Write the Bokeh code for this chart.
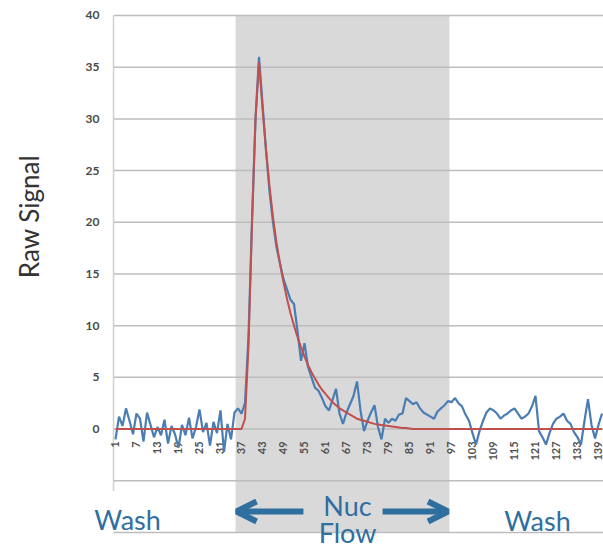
import math
from bokeh.plotting import figure
from bokeh.models import Range1d, Label, Arrow, OpenHead, ColumnDataSource
from bokeh.core.properties import value
from bokeh.embed import file_html
from bokeh.resources import INLINE

# ---------------- data ----------------
frame_index = list(range(1, 141))

raw_signal = [
    -1.0, 1.2, 0.3, 2.0, 0.8, -0.5, 1.5, 1.0, -1.2, 1.6,
    0.4, -0.8, 0.2, -0.6, 0.9, -1.4, 0.3, -0.5, -1.8, 0.4,
    -0.6, 1.1, -0.9, 0.2, 1.9, -0.3, 0.6, -1.6, 0.7, -0.4,
    1.8, -2.2, 0.5, -1.0, 1.6, 2.0, 1.5, 2.5, 9.0, 20.0,
    30.0, 36.0, 31.5, 27.0, 23.0, 20.0, 17.6, 16.0, 14.5, 13.5,
    12.5, 12.1, 9.5, 6.6, 8.3, 6.0, 5.0, 4.0, 3.7, 3.0,
    2.2, 1.8, 2.8, 3.9, 1.5, 0.5, 1.6, 2.4, 3.2, 4.6,
    1.8, -0.2, 0.8, 1.6, 2.3, 0.2, -1.0, 1.0, 0.6, 1.0,
    0.8, 1.4, 1.5, 3.0, 2.7, 2.4, 2.6, 2.0, 1.6, 1.4,
    1.2, 1.0, 1.7, 2.0, 2.3, 2.7, 2.6, 3.0, 2.5, 2.2,
    1.4, 0.8, -0.4, -1.5, -0.2, 0.8, 1.6, 2.0, 1.8, 1.5,
    1.0, 1.3, 1.5, 1.8, 2.0, 1.5, 1.0, 1.2, 1.5, 2.2,
    3.2, -0.2, -0.8, -1.5, -0.4, 0.5, 1.0, 1.2, 1.5, 0.8,
    0.5, -0.3, -0.8, -1.5, 0.8, 2.9, 0.4, -0.9, 0.4, 1.5,
]

fit_signal = [0.0] * 37 + [
    1.0, 8.0, 20.0, 30.0, 35.5, 31.0, 27.0, 23.5, 20.5, 18.0,
    16.0, 14.2, 12.6, 11.2, 10.0, 8.9, 7.9, 7.0, 6.2, 5.5,
    4.9, 4.3, 3.8, 3.4, 3.0, 2.6, 2.3, 2.0, 1.8, 1.6,
    1.4, 1.2, 1.0, 0.9, 0.8, 0.7, 0.6, 0.5, 0.45, 0.4,
    0.35, 0.3, 0.25, 0.2, 0.15, 0.1, 0.1, 0.05,
] + [0.0] * 55

x_tick_index = list(range(1, 141, 6))
x_tick_labels = [str(v) for v in x_tick_index]

y_grid_values = [-10, -5, 0, 5, 10, 15, 20, 25, 30, 35, 40]
y_tick_values = [0, 5, 10, 15, 20, 25, 30, 35, 40]
y_tick_labels = [str(v) for v in y_tick_values]
y_min, y_max = -10, 40

nuc_flow_start = 35.3
nuc_flow_end = 96.4

# ---------------- layout constants ----------------
X0, X1 = -31.857, 140.43      # full canvas in data units
Y0, Y1 = -11.94, 41.45
AXIS_X = 0.43                 # position of the value axis
PX_X = 3.5                    # pixels per category
PX_Y = 10.34                  # pixels per unit of signal

p = figure(width=603, height=552, output_backend="svg", toolbar_location=None,
           x_range=Range1d(X0, X1), y_range=Range1d(Y0, Y1),
           x_axis_location=None, y_axis_location=None,
           min_border=0, min_border_left=0, min_border_right=0,
           min_border_top=0, min_border_bottom=0)
p.outline_line_color = None
p.background_fill_color = "white"
p.grid.visible = False

# shaded nucleotide-flow window
p.quad(left=[nuc_flow_start], right=[nuc_flow_end], bottom=[y_min], top=[y_max],
       fill_color="#d9d9d9", line_color=None)

# horizontal gridlines
p.segment(x0=[AXIS_X] * len(y_grid_values), x1=[X1] * len(y_grid_values),
          y0=y_grid_values, y1=y_grid_values, line_color="#bdbdbd", line_width=1.5)

# value axis line
p.segment(x0=[AXIS_X], x1=[AXIS_X], y0=[y_min + 4], y1=[y_max],
          line_color="#d0d0d0", line_width=1.5)

# value-axis tick labels
p.text(x=[AXIS_X - 14 / PX_X] * len(y_tick_values), y=y_tick_values, text=y_tick_labels,
       text_align="right", text_baseline="middle",
       text_font=value("Lato"), text_font_size="12px", text_font_style="bold",
       text_color="#4a4a4a")

# axis title
p.add_layout(Label(x=AXIS_X - 85 / PX_X, y=40 - 201 / PX_Y, text="Raw Signal", angle=math.pi / 2,
                   text_align="center", text_baseline="middle",
                   text_font="Lato", text_font_size="26px", text_color="#333333"))

# category labels below the zero line
src = ColumnDataSource(dict(x=x_tick_index, y=[-1.2] * len(x_tick_index), t=x_tick_labels))
p.text(x="x", y="y", text="t", source=src, angle=math.pi / 2,
       text_align="right", text_baseline="middle",
       text_font=value("Lato"), text_font_size="11px", text_font_style="bold",
       text_color="#505050")

# series
p.line(frame_index, raw_signal, line_color="#4a7db3", line_width=2.2)
p.line(frame_index, fit_signal, line_color="#c0504d", line_width=2.0)

# annotations
blue = "#2f6fa0"
for txt, x, y in [("Wash", 4.43, -8.74), ("Wash", 121.57, -8.84),
                  ("Nuc", 67.29, -7.39), ("Flow", 67.29, -10.0)]:
    p.add_layout(Label(x=x, y=y, text=txt, text_align="center", text_baseline="middle",
                       text_font="Lato", text_font_size="27px", text_color=blue))

p.add_layout(Arrow(x_start=54.7, y_start=-7.97, x_end=35.6, y_end=-7.97,
                   line_color=blue, line_width=6,
                   end=OpenHead(size=20, line_color=blue, line_width=6)))
p.add_layout(Arrow(x_start=77.3, y_start=-7.97, x_end=96.0, y_end=-7.97,
                   line_color=blue, line_width=6,
                   end=OpenHead(size=20, line_color=blue, line_width=6)))

open("out.html", "w").write(file_html(p, INLINE))
